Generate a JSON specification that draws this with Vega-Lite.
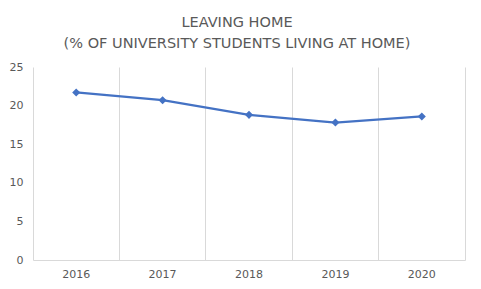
{
  "$schema": "https://vega.github.io/schema/vega-lite/v6.json",
  "autosize": "none",
  "width": 432,
  "height": 193,
  "padding": {"left": 33, "top": 67, "right": 16, "bottom": 29},
  "background": "white",
  "config": {"view": {"stroke": null}, "font": "DejaVu Sans"},
  "title": {
    "text": ["LEAVING HOME", "(% OF UNIVERSITY STUDENTS LIVING AT HOME)"],
    "font": "DejaVu Sans",
    "fontSize": 14.5,
    "fontWeight": "normal",
    "color": "#595959",
    "lineHeight": 21,
    "anchor": "middle",
    "frame": "bounds",
    "offset": 10
  },
  "data": {"values": [
    {"year": "2016", "pct": 21.7},
    {"year": "2017", "pct": 20.7},
    {"year": "2018", "pct": 18.8},
    {"year": "2019", "pct": 17.8},
    {"year": "2020", "pct": 18.6}
  ]},
  "resolve": {"axis": {"x": "independent"}},
  "layer": [
    {
      "mark": {"type": "tick", "opacity": 0},
      "encoding": {
        "x": {"field": "year", "type": "ordinal", "scale": {"type": "band", "paddingInner": 0, "paddingOuter": 0},
          "axis": {"orient": "bottom", "labels": false, "domain": false, "ticks": false, "grid": true,
            "gridColor": "#D9D9D9", "gridWidth": 1, "bandPosition": 1, "title": null}}
      }
    },
    {
      "encoding": {
        "x": {"field": "year", "type": "ordinal",
          "axis": {"orient": "bottom", "title": null, "labelAngle": 0, "domain": true, "domainColor": "#D9D9D9", "ticks": false,
            "grid": false, "labelColor": "#595959", "labelFontSize": 11, "labelPadding": 8}},
        "y": {"field": "pct", "type": "quantitative", "scale": {"domain": [0, 25]},
          "axis": {"title": null, "values": [0, 5, 10, 15, 20, 25], "grid": false, "ticks": false,
            "domain": true, "domainColor": "#D9D9D9", "labelColor": "#595959", "labelFontSize": 11, "labelPadding": 10, "labelOverlap": false}}
      },
      "layer": [
        {"mark": {"type": "line", "color": "#4472C4", "strokeWidth": 2.25}},
        {"mark": {"type": "point", "shape": "diamond", "filled": true, "color": "#4472C4", "size": 65, "opacity": 1}}
      ]
    }
  ]
}
